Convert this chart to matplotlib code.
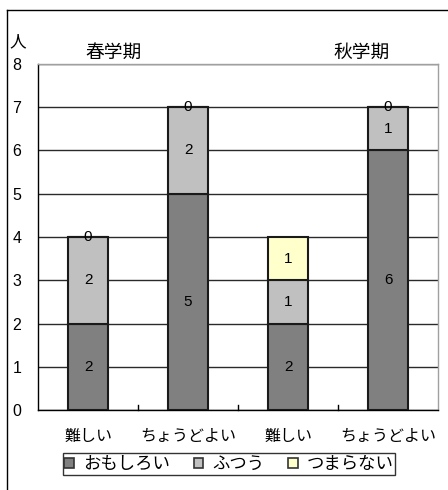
import matplotlib
matplotlib.use('Agg')
import matplotlib.pyplot as plt
import numpy as np
from matplotlib.patches import Patch
from matplotlib.lines import Line2D

plt.rcParams['font.family'] = ['Noto Sans CJK JP', 'DejaVu Sans']

# 学期ごとの授業アンケート集計
categories = ['難しい', 'ちょうどよい', '難しい', 'ちょうどよい']
terms = ['春学期', '秋学期']
omoshiroi = [2, 5, 2, 6]
futsuu = [2, 2, 1, 1]
tsumaranai = [0, 0, 1, 0]
series_names = ['おもしろい', 'ふつう', 'つまらない']
colors = ['#808080', '#c0c0c0', '#ffffcc']

W, H = 448, 490
fig = plt.figure(figsize=(W / 100, H / 100), dpi=100)

# 外枠 (右と下ははみ出している)
fig.add_artist(Line2D([7 / W, 1], [1 - 10 / H, 1 - 10 / H], color='black', lw=1))
fig.add_artist(Line2D([7 / W, 7 / W], [0, 1 - 10 / H], color='black', lw=1))

left, right, top, bottom = 38, 438, 64, 410
ax = fig.add_axes([left / W, 1 - bottom / H, (right - left) / W, (bottom - top) / H])

num_font = ['Liberation Sans', 'DejaVu Sans']

x = np.arange(len(categories))
width = 0.4
series = [omoshiroi, futsuu, tsumaranai]
base = np.zeros(len(categories))
for vals, col, name in zip(series, colors, series_names):
    vals = np.array(vals, dtype=float)
    ax.bar(x, vals, width, bottom=base, color=col, edgecolor='#1a1a1a', linewidth=1.5, zorder=3)
    for xi, b, v in zip(x, base, vals):
        ax.text(xi, b + v / 2, f'{int(v)}', ha='center', va='center', fontsize=11,
                family=num_font, zorder=4)
    base += vals

ax.set_xlim(-0.5, len(categories) - 0.5)
ax.set_ylim(0, 8)
ax.set_yticks(range(0, 9))
ax.set_yticklabels([str(v) for v in range(0, 9)], family=num_font, fontsize=11.5)
ax.tick_params(axis='y', length=0, pad=12)
ax.set_xticks(x)
ax.set_xticklabels(categories, fontsize=11.5)
ax.tick_params(axis='x', length=0, pad=13)
for b in [0.5, 1.5, 2.5]:
    ax.plot([b, b], [0, 0.12], color='black', lw=1, zorder=3, clip_on=False)

ax.yaxis.grid(True, color='#2a2a2a', lw=1)
ax.set_axisbelow(True)
ax.spines['left'].set_color('black')
ax.spines['bottom'].set_color('black')
ax.spines['top'].set_color('#a0a0a0')
ax.spines['right'].set_color('#a0a0a0')
for s in ax.spines.values():
    s.set_linewidth(1)

fig.text(18 / W, 1 - 42 / H, '人', ha='center', va='center', fontsize=12)
fig.text(114 / W, 1 - 52 / H, terms[0], ha='center', va='center', fontsize=13.5)
fig.text(362 / W, 1 - 52 / H, terms[1], ha='center', va='center', fontsize=13.5)

handles = [Patch(facecolor=c, edgecolor='#333333', linewidth=1.2) for c in colors]
leg = fig.legend(handles, series_names, loc='center', bbox_to_anchor=(229 / W, 1 - 464 / H),
                 ncol=3, frameon=True, fancybox=False, fontsize=12.5, handlelength=0.55,
                 handleheight=0.55, handletextpad=0.5, columnspacing=1.4, borderpad=0.1,
                 borderaxespad=0)
leg.get_frame().set_edgecolor('black')
leg.get_frame().set_linewidth(1)

fig.savefig('out.png', dpi=100)
